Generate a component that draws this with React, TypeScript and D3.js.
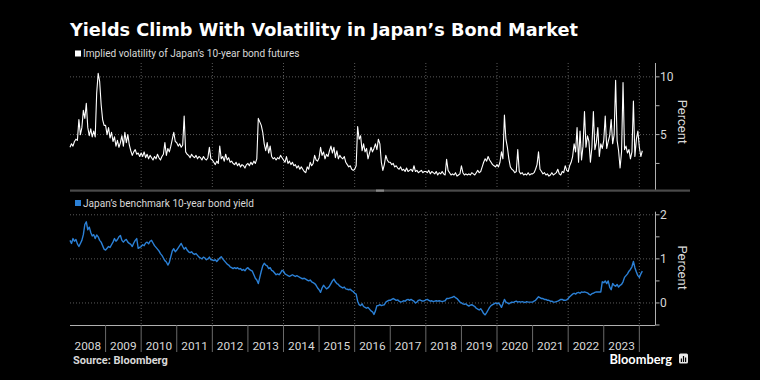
import React from "react";
import * as d3 from "d3";

const START_YEAR = 2008;
const STEPS_PER_YEAR = 24; // semi-monthly observations
const yearLabels = ["2008","2009","2010","2011","2012","2013","2014","2015","2016","2017","2018","2019","2020","2021","2022","2023"];
const volTicks = [5, 10];
const volMinorTicks = [2.5, 7.5];
const yieldTicks = [0, 1, 2];
const yieldMinorTicks = [-0.5, 0.5, 1.5];
const gridYears = [2010, 2012, 2014, 2016, 2018, 2020, 2022, 2024];

// Implied volatility of Japan's 10-year bond futures (semi-monthly, 2008 -> early 2024)
const volatility = [
  3.9, 4.2, 4.0, 4.4, 4.6, 4.5, 6.3, 5.0, 5.6, 7.1, 6.4, 7.7, 5.6, 4.9, 5.5, 4.8, 5.3, 4.8, 8.6, 10.3, 9.6, 7.6, 6.3, 5.8,
  5.8, 5.0, 5.6, 4.7, 5.2, 4.4, 4.8, 4.0, 4.5, 3.9, 4.3, 4.9, 4.0, 5.2, 4.3, 5.0, 4.1, 3.6, 3.2, 3.5, 3.7, 3.3, 3.4, 3.1,
  3.4, 3.1, 3.5, 3.0, 3.3, 2.9, 3.2, 3.0, 2.8, 3.1, 2.9, 3.3, 3.0, 2.8, 3.1, 3.3, 4.3, 3.2, 3.8, 3.5, 4.0, 4.6, 5.2, 4.4,
  4.3, 4.0, 4.2, 3.9, 4.1, 6.6, 3.5, 3.3, 3.2, 3.0, 3.3, 3.1, 3.0, 3.2, 2.9, 3.1, 3.0, 2.8, 3.1, 2.9, 2.8, 3.0, 3.9, 2.9,
  2.8, 2.6, 2.4, 2.7, 2.5, 4.0, 2.9, 3.1, 2.7, 3.3, 2.8, 3.0, 2.6, 2.7, 2.5, 2.4, 2.6, 2.3, 2.5, 2.2, 2.4, 2.3, 2.1, 2.4,
  2.5, 2.3, 2.6, 2.4, 2.7, 2.5, 2.9, 6.4, 6.1, 5.8, 5.2, 4.2, 3.6, 4.3, 3.4, 4.0, 3.1, 2.9, 3.0, 2.8, 3.0, 2.9, 3.2, 3.0,
  2.8, 2.6, 3.1, 2.5, 2.7, 2.4, 2.6, 2.3, 2.4, 2.1, 2.3, 2.0, 2.2, 2.0, 1.8, 1.7, 2.2, 2.0, 2.6, 2.3, 2.5, 3.2, 2.8, 2.7,
  3.0, 3.9, 3.2, 3.5, 2.9, 3.3, 3.1, 3.6, 4.0, 3.4, 3.9, 3.0, 3.6, 2.9, 3.2, 3.0, 2.9, 3.1, 2.6, 2.4, 2.2, 2.3, 2.0, 1.9,
  2.0, 2.3, 5.7, 4.6, 4.9, 3.6, 4.2, 3.5, 3.8, 2.9, 3.4, 3.9, 3.5, 3.8, 4.2, 3.7, 4.6, 4.2, 2.6, 1.9, 2.4, 3.2, 2.8, 2.6,
  2.6, 2.4, 2.5, 2.2, 2.3, 2.1, 2.0, 2.2, 1.9, 2.0, 1.8, 2.1, 1.8, 1.9, 2.0, 1.8, 2.3, 1.8, 1.9, 1.7, 1.8, 1.9, 1.7, 1.8,
  1.8, 1.7, 1.9, 1.6, 1.8, 1.7, 1.6, 1.8, 1.5, 1.7, 1.6, 1.8, 1.6, 1.5, 2.85, 1.9, 1.7, 1.5, 1.6, 1.5, 1.7, 1.4, 1.5, 1.6,
  2.3, 1.7, 1.5, 1.6, 1.5, 1.6, 1.5, 1.7, 1.6, 1.5, 1.7, 1.9, 1.7, 1.8, 2.2, 2.6, 2.9, 2.7, 3.1, 2.8, 2.6, 2.4, 2.3, 2.2,
  2.4, 2.2, 2.6, 3.5, 2.9, 6.7, 4.6, 3.9, 2.9, 2.2, 2.0, 1.9, 1.7, 1.8, 3.7, 1.8, 1.6, 1.7, 1.5, 1.6, 1.5, 1.7, 1.5, 1.6,
  1.6, 1.7, 2.0, 2.4, 3.5, 2.0, 1.8, 1.6, 1.7, 1.5, 1.6, 1.4, 1.5, 1.7, 1.5, 1.6, 1.7, 2.0, 1.6, 1.5, 1.8, 1.7, 2.3, 1.9,
  1.8, 2.3, 2.6, 3.1, 4.2, 3.5, 5.6, 2.6, 5.3, 2.8, 4.0, 7.0, 3.9, 4.9, 4.4, 2.6, 3.9, 7.0, 3.7, 4.3, 5.6, 3.1, 4.2, 3.8,
  4.5, 6.6, 3.8, 4.4, 4.9, 6.3, 4.2, 5.0, 9.7, 4.5, 3.6, 2.1, 3.5, 9.5, 3.7, 4.0, 3.4, 3.7, 2.9, 3.5, 7.9, 3.1, 4.6, 5.3,
  3.9, 3.1, 3.6,
];

// Japan's benchmark 10-year bond yield, percent (semi-monthly, 2008 -> early 2024)
const yieldPct = [
  1.42, 1.35, 1.46, 1.40, 1.44, 1.34, 1.28, 1.35, 1.42, 1.55, 1.78, 1.84, 1.66, 1.72, 1.60, 1.52, 1.55, 1.46, 1.54, 1.50, 1.42, 1.38, 1.30, 1.22,
  1.20, 1.24, 1.28, 1.26, 1.32, 1.38, 1.46, 1.40, 1.44, 1.50, 1.53, 1.42, 1.38, 1.42, 1.44, 1.38, 1.35, 1.33, 1.28, 1.36, 1.42, 1.46, 1.24, 1.26,
  1.28, 1.32, 1.30, 1.36, 1.38, 1.34, 1.40, 1.42, 1.36, 1.30, 1.26, 1.22, 1.18, 1.12, 1.08, 1.02, 0.96, 0.93, 0.86, 0.92, 1.05, 1.18, 1.23, 1.16,
  1.20, 1.25, 1.30, 1.35, 1.28, 1.22, 1.26, 1.20, 1.16, 1.14, 1.16, 1.12, 1.10, 1.12, 1.08, 1.04, 1.02, 1.00, 1.04, 1.02, 0.98, 1.00, 1.04, 0.98,
  0.98, 0.96, 0.98, 0.94, 0.98, 1.02, 1.05, 1.00, 0.96, 0.92, 0.88, 0.86, 0.82, 0.80, 0.78, 0.80, 0.78, 0.80, 0.77, 0.78, 0.74, 0.76, 0.73, 0.78,
  0.80, 0.76, 0.74, 0.72, 0.64, 0.56, 0.52, 0.44, 0.58, 0.72, 0.84, 0.90, 0.86, 0.84, 0.78, 0.80, 0.74, 0.72, 0.68, 0.64, 0.66, 0.64, 0.68, 0.74,
  0.72, 0.66, 0.64, 0.62, 0.60, 0.62, 0.64, 0.62, 0.60, 0.62, 0.60, 0.58, 0.56, 0.55, 0.56, 0.54, 0.52, 0.50, 0.52, 0.48, 0.46, 0.44, 0.40, 0.34,
  0.30, 0.24, 0.34, 0.40, 0.36, 0.32, 0.34, 0.38, 0.44, 0.50, 0.54, 0.48, 0.44, 0.42, 0.38, 0.36, 0.34, 0.36, 0.32, 0.31, 0.30, 0.31, 0.28, 0.26,
  0.22, 0.20, 0.04, -0.04, -0.06, -0.02, -0.08, -0.10, -0.12, -0.10, -0.14, -0.18, -0.20, -0.26, -0.18, -0.06, -0.06, -0.04, -0.06, -0.05, -0.04, 0.02, 0.04, 0.06,
  0.06, 0.08, 0.10, 0.08, 0.06, 0.07, 0.04, 0.02, 0.03, 0.05, 0.04, 0.07, 0.08, 0.06, 0.08, 0.06, 0.04, 0.00, 0.02, 0.06, 0.07, 0.05, 0.04, 0.05,
  0.07, 0.08, 0.06, 0.04, 0.05, 0.03, 0.04, 0.05, 0.04, 0.05, 0.04, 0.03, 0.04, 0.05, 0.10, 0.10, 0.11, 0.12, 0.13, 0.15, 0.12, 0.10, 0.06, 0.02,
  0.00, -0.02, -0.03, -0.02, -0.05, -0.07, -0.05, -0.04, -0.06, -0.08, -0.12, -0.14, -0.16, -0.13, -0.18, -0.24, -0.27, -0.22, -0.16, -0.10, -0.06, -0.04, -0.02, 0.00,
  -0.02, 0.00, -0.04, -0.10, -0.02, 0.08, 0.02, 0.00, -0.02, 0.00, 0.02, 0.01, 0.03, 0.04, 0.02, 0.03, 0.02, 0.03, 0.02, 0.01, 0.03, 0.02, 0.02, 0.02,
  0.02, 0.04, 0.06, 0.10, 0.14, 0.12, 0.10, 0.10, 0.08, 0.08, 0.06, 0.06, 0.04, 0.04, 0.02, 0.02, 0.03, 0.04, 0.06, 0.08, 0.08, 0.06, 0.06, 0.07,
  0.10, 0.14, 0.17, 0.20, 0.22, 0.20, 0.23, 0.24, 0.22, 0.25, 0.24, 0.25, 0.24, 0.23, 0.20, 0.18, 0.21, 0.22, 0.24, 0.25, 0.25, 0.25, 0.25, 0.48,
  0.46, 0.50, 0.44, 0.50, 0.36, 0.30, 0.44, 0.40, 0.38, 0.42, 0.36, 0.40, 0.42, 0.48, 0.58, 0.62, 0.66, 0.72, 0.76, 0.82, 0.94, 0.80, 0.70, 0.62,
  0.58, 0.66, 0.72,
];

const W = 760;
const H = 380;
const BLUE = "#2b80d6";
const SANS = "'Liberation Sans Narrow', 'Arial Narrow', Roboto, sans-serif";

export default function App() {
  const x = d3.scaleLinear().domain([2008, 2024.44]).range([70, 655]);
  const yVol = d3.scaleLinear().domain([0.2, 11.2]).range([190, 63]);
  const yYld = d3.scaleLinear().domain([-0.5, 2.07]).range([325, 211.7]);
  const t = (i: number) => START_YEAR + i / STEPS_PER_YEAR;

  const volLine = d3.line<number>().x((_, i) => x(t(i))).y((d) => yVol(d));
  const yldLine = d3.line<number>().x((_, i) => x(t(i))).y((d) => yYld(d));

  const axisX = 655.5;
  const gridColor = "#5a5a5a";
  const axisColor = "#b0b0b0";
  const labelColor = "#d8d8d8";

  return (
    <div style={{ position: "absolute", left: 0, top: 0, width: W, height: H, background: "#000" }}>
      <svg width={W} height={H} style={{ display: "block", background: "#000" }}>
        {/* Title */}
        <text x={70} y={36} fill="#fff" fontFamily="'DejaVu Sans', Verdana, sans-serif" fontWeight={700} fontSize={17.7}>
          Yields Climb With Volatility in Japan’s Bond Market
        </text>

        {/* Legend top */}
        <rect x={75} y={50.5} width={6} height={6} fill="#fff" />
        <text x={83} y={57} fill={labelColor} fontFamily={SANS} fontSize={10.1}>
          Implied volatility of Japan’s 10-year bond futures
        </text>

        {/* Top panel gridlines */}
        {volTicks.map((v) => (
          <line key={"vg" + v} x1={70} x2={axisX} y1={yVol(v)} y2={yVol(v)} stroke={gridColor} strokeDasharray="1,2" />
        ))}
        {gridYears.map((yr) => (
          <line key={"vx" + yr} x1={x(yr)} x2={x(yr)} y1={63} y2={189} stroke={gridColor} strokeDasharray="1,2" />
        ))}

        {/* Top series */}
        <path d={volLine(volatility) || ""} fill="none" stroke="#fff" strokeWidth={1.1} strokeLinejoin="round" />

        {/* Top right axis */}
        <line x1={axisX} x2={axisX} y1={63} y2={190} stroke={axisColor} />
        {volTicks.concat(volMinorTicks).map((v) => (
          <line key={"vt" + v} x1={axisX} x2={axisX + 4} y1={yVol(v)} y2={yVol(v)} stroke={axisColor} />
        ))}
        {volTicks.map((v) => (
          <text key={"vl" + v} x={660} y={yVol(v)} dy="0.35em" fill={labelColor} fontFamily={SANS} fontSize={12}>
            {v}
          </text>
        ))}
        <text transform={`translate(678,${yVol(6.1)}) rotate(90)`} textAnchor="middle" fill={labelColor} fontFamily={SANS} fontSize={13}>
          Percent
        </text>

        {/* Separator */}
        <rect x={70} y={189.5} width={620} height={2.2} fill="#4a4a4a" />
        <rect x={376} y={189.5} width={8} height={2.2} fill="#888" />

        {/* Legend bottom */}
        <rect x={75} y={200} width={6} height={6} fill={BLUE} />
        <text x={83} y={206.5} fill={labelColor} fontFamily={SANS} fontSize={10.1}>
          Japan’s benchmark 10-year bond yield
        </text>

        {/* Bottom panel gridlines */}
        {yieldTicks.map((v) => (
          <line key={"yg" + v} x1={70} x2={axisX} y1={yYld(v)} y2={yYld(v)} stroke={gridColor} strokeDasharray="1,2" />
        ))}
        {gridYears.map((yr) => (
          <line key={"yx" + yr} x1={x(yr)} x2={x(yr)} y1={212} y2={325} stroke={gridColor} strokeDasharray="1,2" />
        ))}

        {/* Bottom series */}
        <path d={yldLine(yieldPct) || ""} fill="none" stroke={BLUE} strokeWidth={1.4} strokeLinejoin="round" />

        {/* Bottom right axis */}
        <line x1={axisX} x2={axisX} y1={211.7} y2={325} stroke={axisColor} />
        {yieldTicks.concat(yieldMinorTicks).map((v) => (
          <line key={"yt" + v} x1={axisX} x2={axisX + 4} y1={yYld(v)} y2={yYld(v)} stroke={axisColor} />
        ))}
        {yieldTicks.map((v) => (
          <text key={"yl" + v} x={660} y={yYld(v)} dy="0.35em" fill={labelColor} fontFamily={SANS} fontSize={12}>
            {v}
          </text>
        ))}
        <text transform={`translate(678,${yYld(0.8)}) rotate(90)`} textAnchor="middle" fill={labelColor} fontFamily={SANS} fontSize={13}>
          Percent
        </text>

        {/* Bottom x axis */}
        <line x1={70} x2={axisX} y1={325.5} y2={325.5} stroke={axisColor} />
        {yearLabels.map((lab, i) => (
          <g key={lab}>
            {i > 0 && (
              <line x1={x(START_YEAR + i)} x2={x(START_YEAR + i)} y1={325} y2={352} stroke="#6a6a6a" />
            )}
            <text x={x(START_YEAR + i + 0.5)} y={349.5} textAnchor="middle" fill={labelColor} fontFamily={SANS} fontSize={11.8}>
              {lab}
            </text>
          </g>
        ))}
        <line x1={x(2024)} x2={x(2024)} y1={325} y2={352} stroke="#6a6a6a" />

        {/* Footer */}
        <text x={73} y={364} fill={labelColor} fontFamily={SANS} fontWeight={700} fontSize={11}>
          Source:  Bloomberg
        </text>
        <text x={672} y={364} textAnchor="end" fill="#fff" fontFamily="Lato, sans-serif" fontWeight={700} fontSize={12.8}>
          Bloomberg
        </text>
        <rect x={679} y={353.5} width={9} height={10} rx={1.5} fill="#e8e8e8" />
        <rect x={680.8} y={358.5} width={1.2} height={3.5} fill="#000" />
        <rect x={682.9} y={356} width={1.2} height={6} fill="#000" />
        <rect x={685} y={357.5} width={1.2} height={4.5} fill="#000" />
      </svg>
    </div>
  );
}
